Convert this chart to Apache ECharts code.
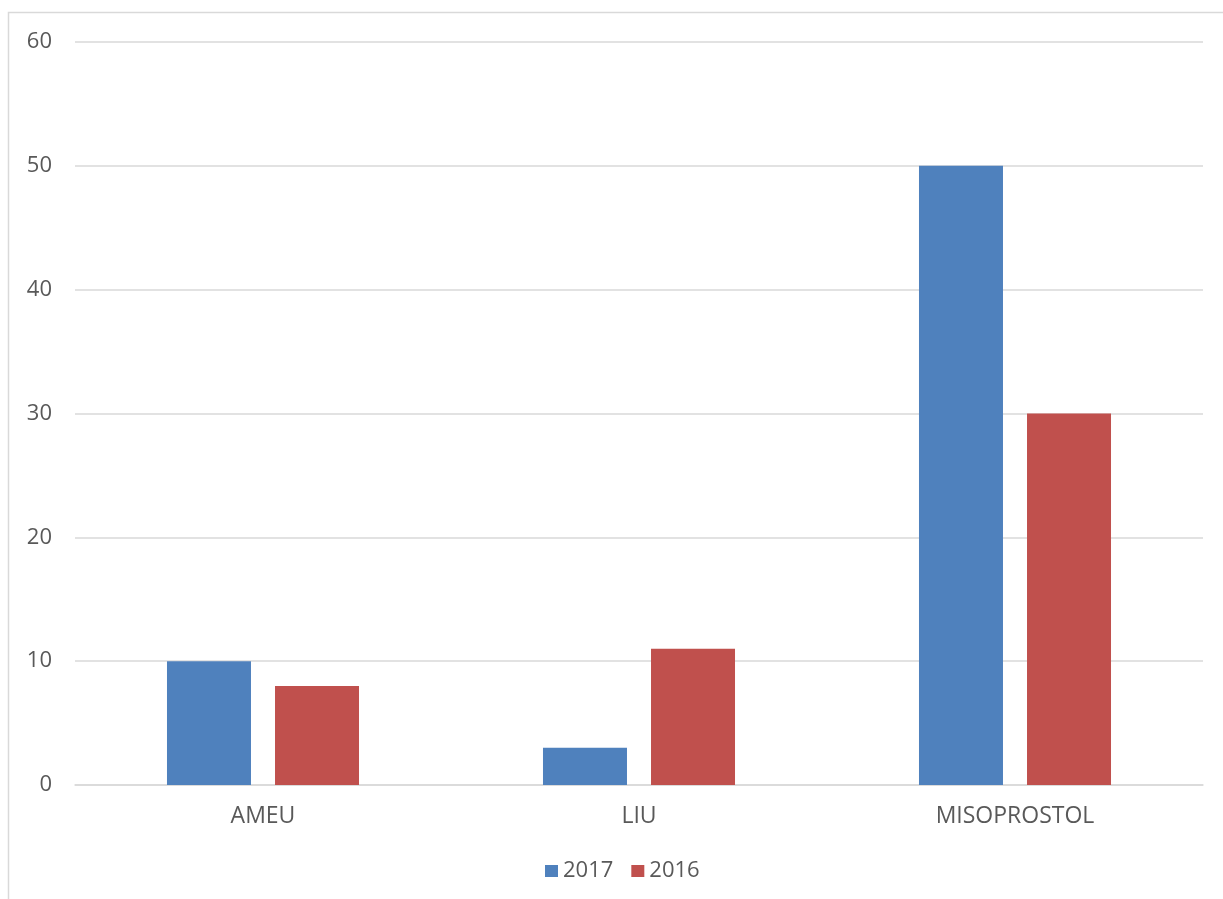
<!DOCTYPE html>
<html>
<head>
<meta charset="utf-8">
<script src="https://cdn.jsdelivr.net/npm/echarts@6/dist/echarts.min.js"></script>
<style>
  html, body { margin: 0; padding: 0; background: #fff; }
  #chart { width: 1223px; height: 899px; }
</style>
</head>
<body>
<div id="chart"></div>
<script>
// Procedures by method, two years
const categories = ['AMEU', 'LIU', 'MISOPROSTOL'];
const values2017 = [10, 3, 50];
const values2016 = [8, 11, 30];
const yTicks = { min: 0, max: 60, interval: 10 };

const font = '"Open Sans", "Noto Sans", sans-serif';
const chart = echarts.init(document.getElementById('chart'), null, { renderer: 'canvas' });
chart.setOption({
  backgroundColor: '#ffffff',
  animation: false,
  graphic: [{
    type: 'rect',
    shape: { x: 8.5, y: 12.5, width: 1240, height: 900 },
    style: { fill: 'none', stroke: '#d9d9d9', lineWidth: 1.5 },
    silent: true
  }],
  grid: { left: 75, right: 20, top: 42, bottom: 114, containLabel: false },
  legend: {
    top: 855,
    left: 540,
    itemWidth: 13,
    itemHeight: 12,
    itemGap: 18,
    icon: 'rect',
    textStyle: { color: '#595959', fontSize: 22, fontFamily: font, padding: [0, 0, 0, 0] },
    data: ['2017', '2016']
  },
  xAxis: {
    type: 'category',
    data: categories,
    axisLine: { show: true, lineStyle: { color: '#d9d9d9', width: 1.5 } },
    axisTick: { show: false },
    axisLabel: { color: '#595959', fontSize: 23, fontFamily: font, margin: 20 }
  },
  yAxis: {
    type: 'value',
    min: yTicks.min,
    max: yTicks.max,
    interval: yTicks.interval,
    axisLine: { show: false },
    axisTick: { show: false },
    splitLine: { lineStyle: { color: '#d9d9d9', width: 1.5 } },
    axisLabel: { color: '#595959', fontSize: 22, fontFamily: font, margin: 23 }
  },
  series: [
    {
      name: '2017', type: 'bar', data: values2017,
      barWidth: 84, barGap: '28.6%',
      itemStyle: { color: '#4F81BD' }
    },
    {
      name: '2016', type: 'bar', data: values2016,
      barWidth: 84,
      itemStyle: { color: '#C0504D' }
    }
  ]
});
</script>
</body>
</html>
